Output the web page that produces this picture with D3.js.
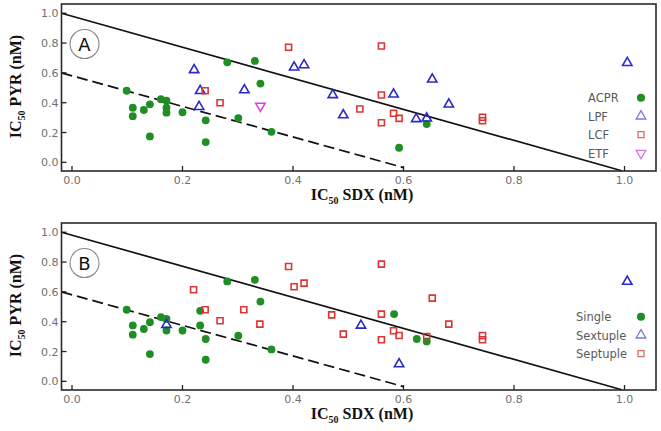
<!DOCTYPE html>
<html><head><meta charset="utf-8">
<script src="https://cdn.jsdelivr.net/npm/d3@7"></script>
<style>body{margin:0;background:#fff}svg{display:block}</style>
</head><body>
<svg id="c" width="661" height="431"></svg>
<script>
// ---- data ----
const xTicks = [0.0, 0.2, 0.4, 0.6, 0.8, 1.0];
const yTicks = [0.0, 0.2, 0.4, 0.6, 0.8, 1.0];
const lineSolid = [[-0.019, 1.0], [0.995, -0.056]];
const lineDashed = [[-0.019, 0.6], [0.60, -0.035]];

// Panel A
const acpr = [[0.099,0.48],[0.11,0.366],[0.11,0.31],[0.13,0.351],[0.141,0.389],[0.141,0.174],[0.161,0.423],[0.171,0.413],[0.171,0.366],[0.171,0.333],[0.2,0.336],[0.242,0.282],[0.242,0.136],[0.281,0.671],[0.301,0.297],[0.331,0.68],[0.341,0.528],[0.361,0.205],[0.642,0.257],[0.592,0.098]];
const lpf = [[0.221,0.62],[0.232,0.48],[0.23,0.373],[0.312,0.485],[0.402,0.637],[0.42,0.653],[0.472,0.452],[0.491,0.317],[0.582,0.456],[0.623,0.291],[0.642,0.295],[0.652,0.557],[0.682,0.389],[1.005,0.668]];
const lcf = [[0.241,0.48],[0.268,0.4],[0.392,0.772],[0.56,0.78],[0.56,0.452],[0.521,0.358],[0.56,0.266],[0.582,0.329],[0.592,0.295],[0.743,0.302],[0.743,0.279]];
const etf = [[0.341,0.378]];
const legendA = ["ACPR", "LPF", "LCF", "ETF"];

// Panel B
const single = [[0.099,0.48],[0.11,0.375],[0.11,0.313],[0.13,0.351],[0.141,0.397],[0.141,0.183],[0.161,0.431],[0.171,0.418],[0.171,0.341],[0.2,0.341],[0.232,0.473],[0.232,0.375],[0.242,0.284],[0.242,0.145],[0.281,0.67],[0.301,0.306],[0.331,0.681],[0.341,0.535],[0.361,0.214],[0.583,0.451],[0.624,0.284],[0.642,0.268]];
const sextuple = [[0.171,0.38],[0.523,0.375],[0.592,0.116],[1.005,0.669]];
const septuple = [[0.22,0.614],[0.241,0.48],[0.268,0.406],[0.311,0.48],[0.34,0.384],[0.392,0.77],[0.402,0.634],[0.42,0.659],[0.47,0.446],[0.491,0.317],[0.56,0.786],[0.56,0.451],[0.56,0.279],[0.582,0.339],[0.592,0.308],[0.642,0.301],[0.652,0.558],[0.682,0.384],[0.743,0.308],[0.743,0.279]];
const legendB = ["Single", "Sextuple", "Septuple"];

// ---- drawing ----
const svg = d3.select("#c");
const COL = {green:"#1f8f24", blue:"#2a2ac8", red:"#e03434", pink:"#e040e0"};
const LCOL = {green:"#1f8f24", blue:"#7a7ae0", red:"#e06a6a", pink:"#e070e6"};
const x = d3.scaleLinear().domain([-0.019, 1.057]).range([61.5, 656]);

function panel(top, bottom, letter, series, legend, legendTop, legendX) {
  const y = d3.scaleLinear().domain([-0.058, 1.062]).range([bottom, top]);
  const g = svg.append("g");
  const tf = d3.format(".1f");
  g.append("g").selectAll("line").data(xTicks).join("line")
    .attr("x1", d => x(d)).attr("x2", d => x(d))
    .attr("y1", bottom).attr("y2", bottom - 5)
    .attr("stroke", "#222").attr("stroke-width", 1.3);
  g.append("g").selectAll("line").data(yTicks).join("line")
    .attr("y1", d => y(d)).attr("y2", d => y(d))
    .attr("x1", x.range()[0]).attr("x2", x.range()[0] + 5)
    .attr("stroke", "#222").attr("stroke-width", 1.3);
  g.append("g").selectAll("text").data(xTicks).join("text")
    .attr("x", d => x(d)).attr("y", bottom + 13)
    .attr("text-anchor", "middle")
    .attr("font-family", "DejaVu Sans").attr("font-size", 11).attr("fill", "#707070")
    .text(tf);
  g.append("g").selectAll("text").data(yTicks).join("text")
    .attr("x", x.range()[0] - 3).attr("y", d => y(d) + 4)
    .attr("text-anchor", "end")
    .attr("font-family", "DejaVu Sans").attr("font-size", 11).attr("fill", "#707070")
    .text(tf);
  const ln = d3.line().x(d => x(d[0])).y(d => y(d[1]));
  g.append("path").attr("d", ln(lineSolid)).attr("fill", "none").attr("stroke", "#111").attr("stroke-width", 1.7);
  g.append("path").attr("d", ln(lineDashed)).attr("fill", "none").attr("stroke", "#111").attr("stroke-width", 1.7).attr("stroke-dasharray", "11,5");
  series.forEach(s => {
    const sg = g.append("g");
    sg.selectAll("path").data(s.data).join("path")
      .attr("transform", d => `translate(${x(d[0])},${y(d[1])})` + (s.type === "tri-down" ? " rotate(180)" : ""))
      .attr("d", symPath(s.type))
      .attr("fill", s.type === "circle" ? COL[s.color] : "none")
      .attr("stroke", s.type === "circle" ? "none" : COL[s.color])
      .attr("stroke-width", 1.6);
  });
  g.append("rect").attr("x", x.range()[0]).attr("y", top)
    .attr("width", x.range()[1] - x.range()[0]).attr("height", bottom - top)
    .attr("fill", "none").attr("stroke", "#2a2a2a").attr("stroke-width", 1.6);
  g.append("circle").attr("cx", 84.5).attr("cy", top + 40).attr("r", 14.5)
    .attr("fill", "none").attr("stroke", "#888").attr("stroke-width", 1.1);
  g.append("text").attr("x", 84.5).attr("y", top + 46.5).attr("text-anchor", "middle")
    .attr("font-family", "DejaVu Sans").attr("font-size", 18).attr("fill", "#111").text(letter);
  legend.forEach((name, i) => {
    const ly = legendTop + i * 18.5;
    g.append("text").attr("x", legendX).attr("y", ly + 4.5)
      .attr("font-family", "DejaVu Sans").attr("font-size", 11.5).attr("fill", "#5a5a5a").text(name);
    const s = series[i];
    g.append("path")
      .attr("transform", `translate(641,${ly})` + (s.type === "tri-down" ? " rotate(180)" : ""))
      .attr("d", symPath(s.type, true))
      .attr("fill", s.type === "circle" ? LCOL[s.color] : "none")
      .attr("stroke", s.type === "circle" ? "none" : LCOL[s.color])
      .attr("stroke-width", 1.3);
  });
  const xt = g.append("text").attr("x", 362).attr("y", bottom + 29)
    .attr("text-anchor", "middle").attr("font-family", "Liberation Serif")
    .attr("font-weight", "bold").attr("font-size", 16).attr("fill", "#111");
  xt.append("tspan").text("IC");
  xt.append("tspan").attr("font-size", 10).attr("dy", 4).text("50");
  xt.append("tspan").attr("dy", -4).text(" SDX (nM)");
  const cy = (top + bottom) / 2 - 1;
  const yt = g.append("text").attr("transform", `translate(21,${cy}) rotate(-90)`)
    .attr("text-anchor", "middle").attr("font-family", "Liberation Serif")
    .attr("font-weight", "bold").attr("font-size", 16).attr("fill", "#111");
  yt.append("tspan").text("IC");
  yt.append("tspan").attr("font-size", 10).attr("dy", 4).text("50");
  yt.append("tspan").attr("dy", -4).text(" PYR (nM)");
}

function symPath(type, legend) {
  if (type === "circle") return d3.symbol().type(d3.symbolCircle).size(legend ? 52 : 48)();
  if (type === "square") return "M-3,-3H3V3H-3Z";
  return d3.symbol().type(d3.symbolTriangle).size(legend ? 40 : 38)();
}

panel(4, 171, "A", [
  {data: acpr, type: "circle", color: "green"},
  {data: lpf, type: "tri", color: "blue"},
  {data: lcf, type: "square", color: "red"},
  {data: etf, type: "tri-down", color: "pink"}
], legendA, 97.7, 588);

panel(223, 390, "B", [
  {data: single, type: "circle", color: "green"},
  {data: sextuple, type: "tri", color: "blue"},
  {data: septuple, type: "square", color: "red"}
], legendB, 316.7, 576);
</script>
</body></html>
